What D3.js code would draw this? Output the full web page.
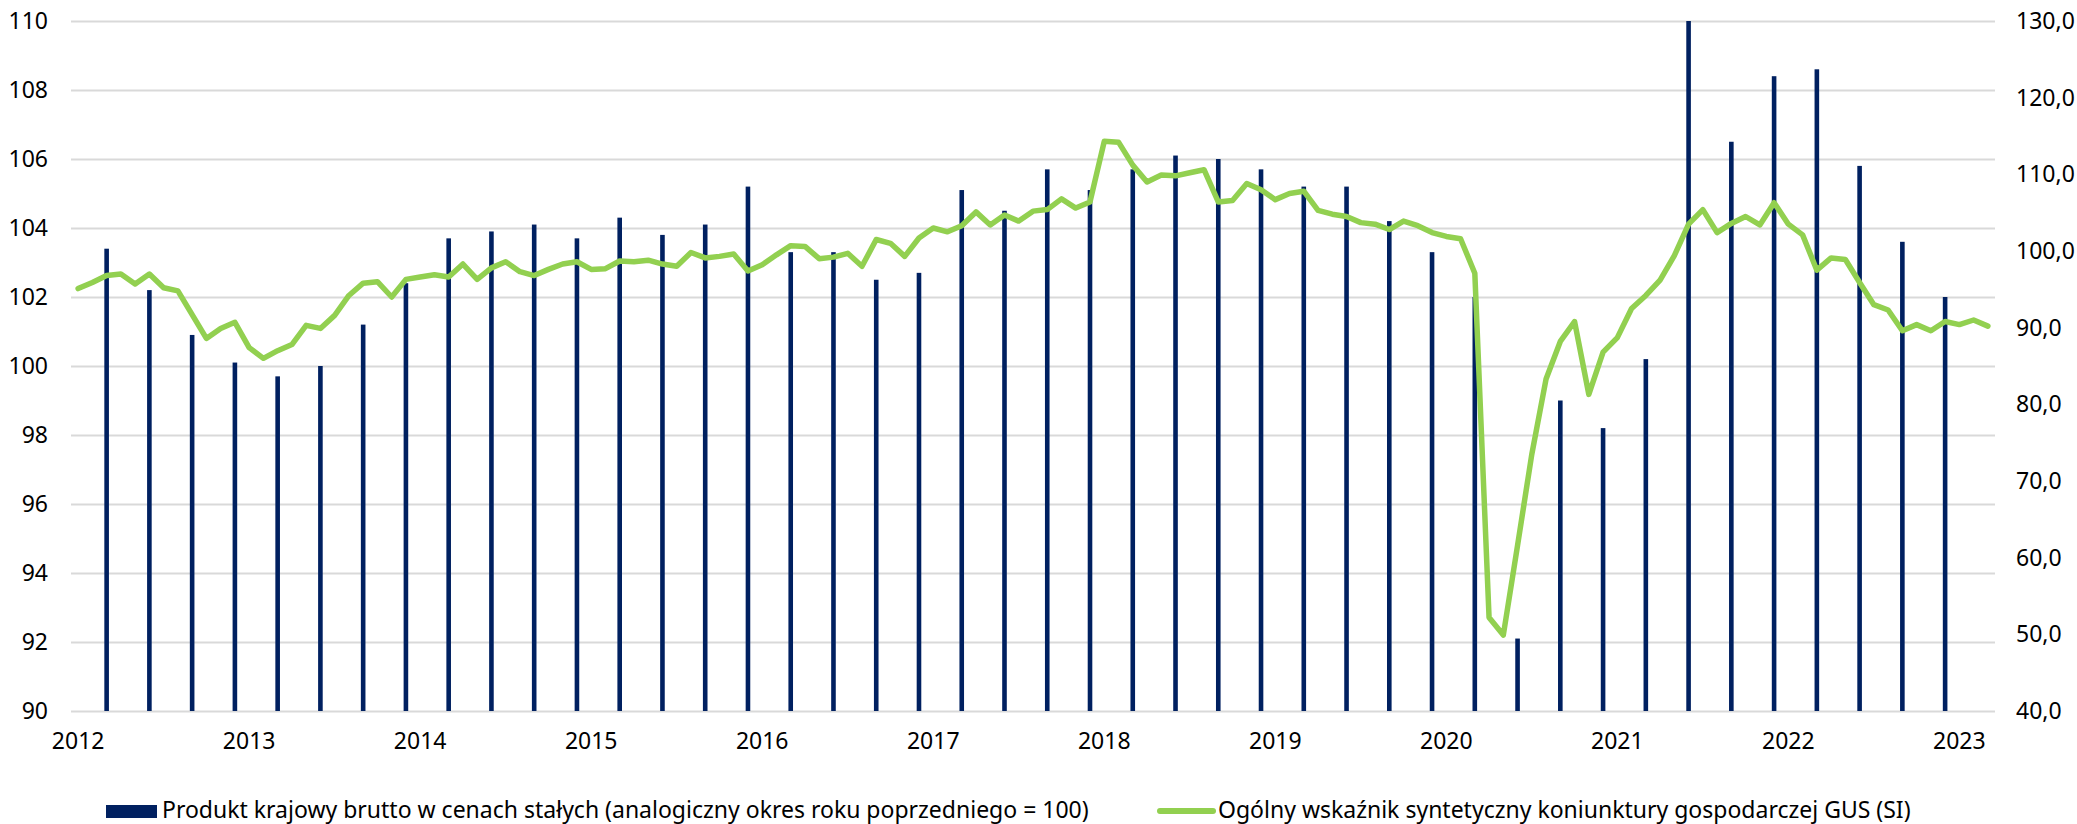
<!DOCTYPE html>
<html>
<head>
<meta charset="utf-8">
<script src="https://cdn.jsdelivr.net/npm/d3@7"></script>
<style>
body { margin: 0; background: #fff; }
svg text { font-family: "Noto Sans", "DejaVu Sans Condensed", sans-serif; font-stretch: semi-condensed; fill: #000; }
</style>
</head>
<body>
<div id="chart"></div>
<script>
var width = 2077,
    height = 824,
    margin = {top: 21, right: 82, bottom: 113, left: 71},
    barColor = '#002060',
    lineColor = '#92d050',
    gridColor = '#d9d9d9'
;

// Quarters with GDP bars (end month of quarter)
var gdpQuarters = [
    '2012-03', '2012-06', '2012-09', '2012-12', '2013-03', '2013-06', '2013-09', '2013-12',
    '2014-03', '2014-06', '2014-09', '2014-12', '2015-03', '2015-06', '2015-09', '2015-12',
    '2016-03', '2016-06', '2016-09', '2016-12', '2017-03', '2017-06', '2017-09', '2017-12',
    '2018-03', '2018-06', '2018-09', '2018-12', '2019-03', '2019-06', '2019-09', '2019-12',
    '2020-03', '2020-06', '2020-09', '2020-12', '2021-03', '2021-06', '2021-09', '2021-12',
    '2022-03', '2022-06', '2022-09', '2022-12'
];

// PKB w cenach stałych (analogiczny okres roku poprzedniego = 100)
var gdpValues = [
    103.4, 102.2, 100.9, 100.1, 99.7, 100.0, 101.2, 102.4,
    103.7, 103.9, 104.1, 103.7, 104.3, 103.8, 104.1, 105.2,
    103.3, 103.3, 102.5, 102.7, 105.1, 104.5, 105.7, 105.1,
    105.7, 106.1, 106.0, 105.7, 105.2, 105.2, 104.2, 103.3,
    102.0, 92.1, 99.0, 98.2, 100.2, 110.0, 106.5, 108.4,
    108.6, 105.8, 103.6, 102.0
];

// Ogólny wskaźnik syntetyczny koniunktury (SI), miesięcznie od 2012-01 do 2023-03
var siValues = [
    95.1, 95.9, 96.8, 97.0, 95.7, 97.0, 95.2, 94.8, 91.7, 88.6, 89.9, 90.7,
    87.4, 86.0, 87.0, 87.8, 90.3, 89.9, 91.6, 94.2, 95.8, 96.0, 94.0, 96.3,
    96.6, 96.9, 96.6, 98.3, 96.3, 97.8, 98.6, 97.3, 96.8, 97.6, 98.3, 98.6,
    97.6, 97.7, 98.7, 98.6, 98.8, 98.3, 98.0, 99.8, 99.1, 99.3, 99.6, 97.4,
    98.2, 99.5, 100.7, 100.6, 99.0, 99.2, 99.7, 98.0, 101.5, 101.0, 99.3, 101.7,
    103.0, 102.5, 103.3, 105.1, 103.4, 104.7, 103.9, 105.2, 105.4, 106.8, 105.6, 106.4,
    114.3, 114.2, 111.2, 109.0, 109.9, 109.8, 110.2, 110.6, 106.4, 106.6, 108.8, 108.0,
    106.7, 107.5, 107.8, 105.3, 104.8, 104.5, 103.7, 103.5, 102.8, 103.9, 103.3, 102.4,
    101.9, 101.6, 97.1, 52.2, 49.9, 61.6, 73.5, 83.3, 88.2, 90.8, 81.3, 86.8,
    88.7, 92.5, 94.2, 96.2, 99.4, 103.5, 105.4, 102.4, 103.6, 104.5, 103.4, 106.3,
    103.5, 102.1, 97.5, 99.1, 98.9, 95.9, 93.0, 92.3, 89.6, 90.4, 89.6, 90.8,
    90.4, 91.0, 90.2
];

var yearTicks = ['2012', '2013', '2014', '2015', '2016', '2017', '2018', '2019', '2020', '2021', '2022', '2023'],
    leftTicks = [90, 92, 94, 96, 98, 100, 102, 104, 106, 108, 110],
    rightTicks = [40, 50, 60, 70, 80, 90, 100, 110, 120, 130];

var legendLabels = [
    'Produkt krajowy brutto w cenach stałych (analogiczny okres roku poprzedniego = 100)',
    'Ogólny wskaźnik syntetyczny koniunktury gospodarczej GUS (SI)'
];

var formatMonth = d3.timeFormat('%Y-%m');
var months = d3.timeMonth.range(new Date(2012, 0, 1), new Date(2023, 3, 1)).map(formatMonth);

var pl = d3.formatLocale({decimal: ',', thousands: ' ', grouping: [3], currency: ['', ' zł']});

var svg = d3.select('#chart')
    .append('svg')
    .attr('width', width)
    .attr('height', height)
;

var w = width - margin.left - margin.right,
    h = height - margin.top - margin.bottom;

var graph = svg.append('g')
    .attr('transform', 'translate(' + margin.left + ',' + margin.top + ')');

// Scales
var x = d3.scaleBand().domain(months).range([0, w]),
    yLeft = d3.scaleLinear().domain([90, 110]).range([h, 0]),
    yRight = d3.scaleLinear().domain([40, 130]).range([h, 0]);

// Gridlines
graph.append('g')
    .attr('class', 'grid')
    .call(d3.axisLeft(yLeft).tickValues(leftTicks).tickSize(-w).tickFormat(''))
    .call(function(g) {
        g.select('.domain').remove();
        g.selectAll('line').attr('stroke', gridColor).attr('stroke-width', 2);
    });

// Bars
graph.selectAll('.bar')
    .data(gdpValues)
    .enter()
    .append('rect')
    .attr('class', 'bar')
    .attr('x', function(d, i) { return x(gdpQuarters[i]) + x.bandwidth() / 2 - 2.3; })
    .attr('width', 4.6)
    .attr('y', function(d) { return yLeft(d); })
    .attr('height', function(d) { return h - yLeft(d); })
    .attr('fill', barColor);

// SI line
var line = d3.line()
    .x(function(d, i) { return x(months[i]) + x.bandwidth() / 2; })
    .y(function(d) { return yRight(d); });

graph.append('path')
    .datum(siValues)
    .attr('d', line)
    .attr('fill', 'none')
    .attr('stroke', lineColor)
    .attr('stroke-width', 5.5)
    .attr('stroke-linejoin', 'round')
    .attr('stroke-linecap', 'round');

// Axes
var fontSize = 23;

graph.append('g')
    .attr('class', 'axis axis--left')
    .call(d3.axisLeft(yLeft).tickValues(leftTicks).tickSize(0).tickPadding(23))
    .call(function(g) { g.select('.domain').remove(); });

graph.append('g')
    .attr('class', 'axis axis--right')
    .attr('transform', 'translate(' + w + ',0)')
    .call(d3.axisRight(yRight).tickValues(rightTicks).tickSize(0).tickPadding(21).tickFormat(pl.format('.1f')))
    .call(function(g) { g.select('.domain').remove(); });

var yearFirst = yearTicks.map(function(y) { return y + '-01'; });

graph.append('g')
    .attr('class', 'axis axis--x')
    .attr('transform', 'translate(0,' + h + ')')
    .call(d3.axisBottom(x).tickValues(yearFirst).tickSize(0).tickPadding(22)
        .tickFormat(function(d) { return d.slice(0, 4); }))
    .call(function(g) { g.select('.domain').remove(); });

svg.selectAll('.axis text')
    .attr('font-family', null)
    .attr('font-size', null)
    .style('font-size', fontSize + 'px');

// Legend
var legend = svg.append('g').attr('class', 'legend');

legend.append('rect')
    .attr('x', 106).attr('y', 805)
    .attr('width', 51).attr('height', 13)
    .attr('fill', barColor);

legend.append('text')
    .attr('x', 162).attr('y', 818)
    .style('font-size', fontSize + 'px')
    .text(legendLabels[0]);

legend.append('line')
    .attr('x1', 1160).attr('x2', 1213)
    .attr('y1', 811).attr('y2', 811)
    .attr('stroke', lineColor)
    .attr('stroke-width', 6)
    .attr('stroke-linecap', 'round');

legend.append('text')
    .attr('x', 1218).attr('y', 818)
    .style('font-size', fontSize + 'px')
    .text(legendLabels[1]);
</script>
</body>
</html>
